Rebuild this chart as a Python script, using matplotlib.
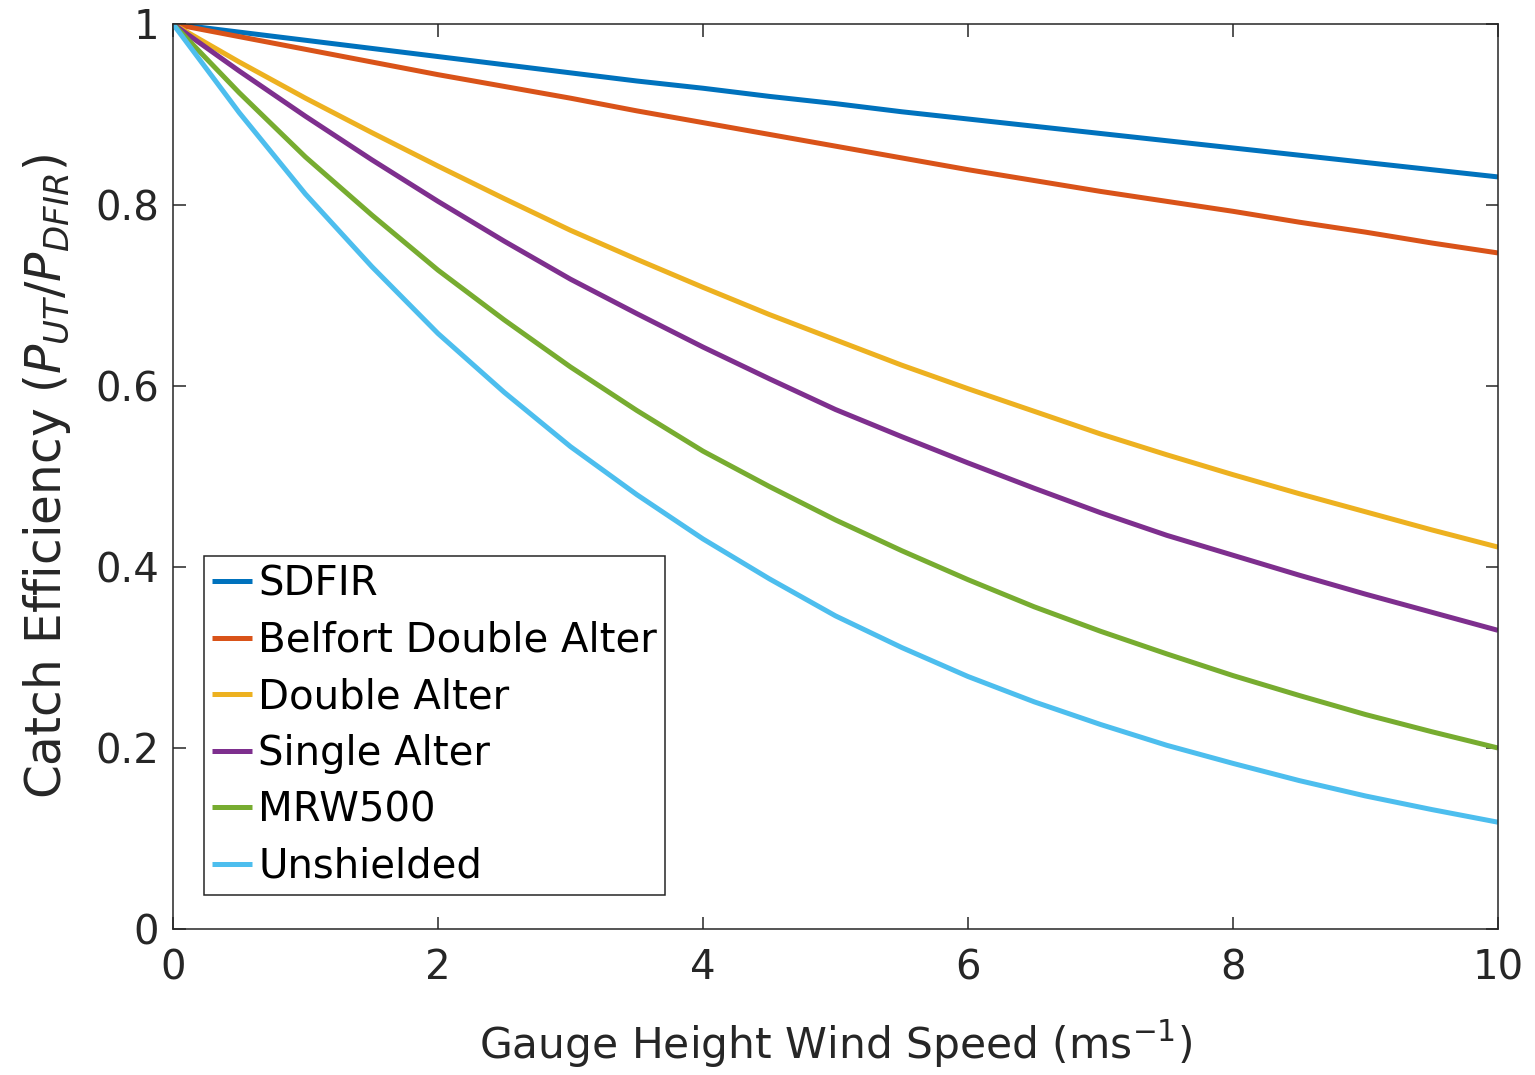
import matplotlib
matplotlib.use("Agg")
import matplotlib.pyplot as plt

# Gauge-height wind speed (m/s)
wind_speed = [0.0, 0.5, 1.0, 1.5, 2.0, 2.5, 3.0, 3.5, 4.0, 4.5, 5.0,
              5.5, 6.0, 6.5, 7.0, 7.5, 8.0, 8.5, 9.0, 9.5, 10.0]

# Catch efficiency of each gauge configuration relative to the DFIR
sdfir = [1.000, 0.991, 0.982, 0.973, 0.964, 0.955, 0.946, 0.937, 0.929, 0.920, 0.912,
         0.903, 0.895, 0.887, 0.879, 0.871, 0.863, 0.855, 0.847, 0.839, 0.831]
belfort_double_alter = [1.000, 0.986, 0.972, 0.958, 0.944, 0.931, 0.918, 0.904, 0.891, 0.878, 0.865,
                        0.852, 0.839, 0.827, 0.815, 0.804, 0.793, 0.781, 0.770, 0.758, 0.747]
double_alter = [1.000, 0.958, 0.918, 0.880, 0.843, 0.807, 0.772, 0.740, 0.709, 0.679, 0.651,
                0.623, 0.597, 0.572, 0.547, 0.524, 0.502, 0.481, 0.461, 0.441, 0.422]
single_alter = [1.000, 0.948, 0.898, 0.850, 0.804, 0.760, 0.718, 0.680, 0.643, 0.608, 0.574,
                0.544, 0.515, 0.487, 0.460, 0.435, 0.413, 0.391, 0.370, 0.350, 0.330]
mrw500 = [1.000, 0.924, 0.853, 0.789, 0.728, 0.673, 0.621, 0.573, 0.528, 0.489, 0.452,
          0.418, 0.386, 0.356, 0.329, 0.304, 0.280, 0.258, 0.237, 0.218, 0.200]
unshielded = [1.000, 0.902, 0.812, 0.732, 0.658, 0.593, 0.533, 0.480, 0.431, 0.387, 0.346,
              0.311, 0.279, 0.251, 0.226, 0.203, 0.183, 0.164, 0.147, 0.132, 0.118]

series_names = ["SDFIR", "Belfort Double Alter", "Double Alter",
                "Single Alter", "MRW500", "Unshielded"]
series_values = [sdfir, belfort_double_alter, double_alter,
                 single_alter, mrw500, unshielded]
series_colors = ["#0072BD", "#D95319", "#EDB120", "#7E2F8E", "#77AC30", "#4DBEEE"]

x_ticks = [0, 2, 4, 6, 8, 10]
x_tick_labels = ["0", "2", "4", "6", "8", "10"]
y_ticks = [0, 0.2, 0.4, 0.6, 0.8, 1]
y_tick_labels = ["0", "0.2", "0.4", "0.6", "0.8", "1"]

plt.rcParams["font.family"] = ["DejaVu Sans"]
plt.rcParams["mathtext.fontset"] = "dejavusans"

fig = plt.figure(figsize=(15.35, 10.75), dpi=100)
ax = fig.add_axes([0.1127, 0.1358, 0.8632, 0.8419])

for name, vals, col in zip(series_names, series_values, series_colors):
    ax.plot(wind_speed, vals, color=col, lw=3.6, label=name,
            solid_capstyle="butt", solid_joinstyle="round")

ax.set_xlim(0, 10)
ax.set_ylim(0, 1)
ax.set_xticks(x_ticks)
ax.set_xticklabels(x_tick_labels)
ax.set_yticks(y_ticks)
ax.set_yticklabels(y_tick_labels)

axis_color = "#262626"
for sp in ax.spines.values():
    sp.set_color(axis_color)
    sp.set_linewidth(1.1)
ax.tick_params(axis="both", which="both", direction="in", length=9, width=1.1,
               top=True, right=True, colors=axis_color, labelsize=29,
               labelcolor="#262626")
ax.tick_params(axis="x", pad=14)
ax.tick_params(axis="y", pad=10)

ax.set_xlabel(r"Gauge Height Wind Speed (ms$^{\mathrm{-1}}$)", fontsize=30.5,
              color="#262626", labelpad=22)
ax.set_ylabel(r"Catch Efficiency ($P_{UT}/P_{DFIR}$)", fontsize=35,
              color="#262626", labelpad=16)

leg = ax.legend(loc="lower left", bbox_to_anchor=(0.0234, 0.0376),
                fontsize=29, handlelength=1.0, handletextpad=0.15,
                labelspacing=0.41, borderpad=0.2, borderaxespad=0.0,
                fancybox=False, framealpha=1.0, edgecolor="#262626")
leg.get_frame().set_linewidth(1.1)
for line in leg.get_lines():
    line.set_linewidth(3.6)

fig.savefig("out.png", dpi=100)
